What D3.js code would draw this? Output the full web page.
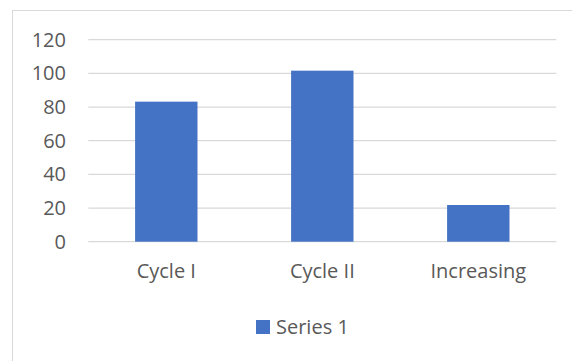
<!DOCTYPE html>
<html>
<head>
<meta charset="utf-8">
<script src="https://cdn.jsdelivr.net/npm/d3@7"></script>
<style>
  body { margin: 0; background: #fff; }
  svg { display: block; }
  text { font-family: "Open Sans", "Noto Sans", sans-serif; fill: #595959; }
</style>
</head>
<body>
<div id="chart"></div>
<script>

    // values
    const categories = ["Cycle I", "Cycle II", "Increasing"]
    const series1 = [83.2, 101.6, 21.8]
    const yTicks = [0, 20, 40, 60, 80, 100, 120]
    const seriesName = "Series 1"

    const width = 572
    const height = 361
    const colour = "#4472c4"

    const svg = d3.select("#chart").append("svg")
        .attr("width", width)
        .attr("height", height)

    // chart frame, cropped at right and bottom like the original
    svg.append("rect")
        .attr("x", 12.5)
        .attr("y", 10.5)
        .attr("width", 620)
        .attr("height", 420)
        .attr("fill", "none")
        .attr("stroke", "#d9d9d9")

    const x = d3.scaleBand()
        .domain(categories)
        .range([88.3, 556.3])
        .paddingInner(0.6)
        .paddingOuter(0.3)

    const y = d3.scaleLinear()
        .domain([0, 120])
        .range([241.7, 39.7])

    // gridlines
    svg.append("g")
        .selectAll("line")
        .data(yTicks)
        .join("line")
        .attr("x1", 88.3)
        .attr("x2", 556.3)
        .attr("y1", d => y(d))
        .attr("y2", d => y(d))
        .attr("stroke", "#d9d9d9")
        .attr("stroke-width", 1.2)

    // y labels
    const yAxis = d3.axisLeft(y).tickValues(yTicks).tickSize(0).tickPadding(0)
    const gy = svg.append("g")
        .attr("transform", "translate(66,0)")
        .call(yAxis)
    gy.select(".domain").remove()
    gy.selectAll("text")
        .attr("font-size", "20px")
        .attr("font-family", null)
        .attr("fill", null)

    // bars
    svg.append("g")
        .selectAll("rect")
        .data(series1)
        .join("rect")
        .attr("x", (d, i) => x(categories[i]))
        .attr("width", x.bandwidth())
        .attr("y", d => y(d))
        .attr("height", d => y(0) - y(d))
        .attr("fill", colour)

    // category labels
    const xAxis = d3.axisBottom(x).tickSize(0).tickPadding(0)
    const gx = svg.append("g")
        .attr("transform", "translate(0,264)")
        .call(xAxis)
    gx.select(".domain").remove()
    gx.selectAll("text")
        .attr("font-size", "20px")
        .attr("font-family", null)
        .attr("fill", null)

    // legend
    const legend = svg.append("g")
    legend.append("rect")
        .attr("x", 256)
        .attr("y", 320)
        .attr("width", 14)
        .attr("height", 14)
        .attr("fill", colour)
    legend.append("text")
        .attr("x", 276)
        .attr("y", 334)
        .attr("font-size", "20px")
        .text(seriesName)

</script>
</body>
</html>
